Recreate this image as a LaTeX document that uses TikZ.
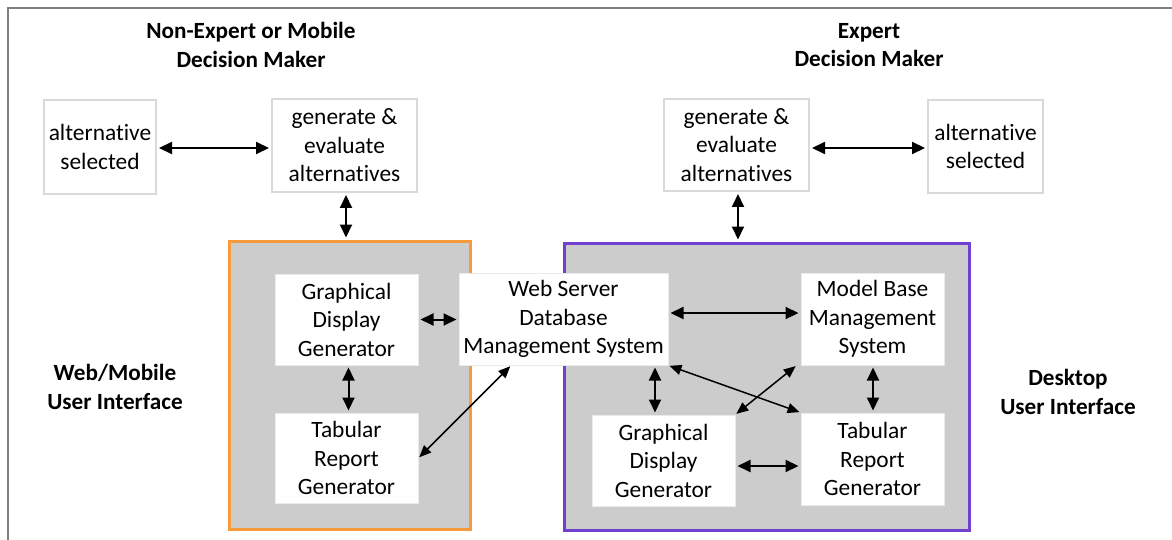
\documentclass[tikz,border=0pt]{standalone}
\usepackage{fontspec}
\setmainfont[Ligatures={CommonOff,ContextualOff},Contextuals=AlternateOff]{Carlito}
\usetikzlibrary{arrows.meta,calc}
\definecolor{framegray}{HTML}{808080}
\definecolor{boxline}{HTML}{D9D9D9}
\definecolor{panelgray}{HTML}{CCCCCC}
\definecolor{webor}{HTML}{F79A3A}
\definecolor{deskpu}{HTML}{7040D0}
\newcommand{\nolig}{\kern0pt{}}
\tikzset{
  txt/.style={font=\fontsize{23.4}{28.5}\selectfont, align=center, inner sep=0pt},
  title/.style={font=\bfseries\fontsize{23.2}{28.5}\selectfont, align=center, inner sep=0pt},
  topbox/.style={txt, draw=boxline, line width=2pt, fill=white},
  inbox/.style={txt, draw=white!92!black, line width=1pt, fill=white},
  panel/.style={fill=panelgray, line width=3pt, inner sep=0pt},
  biarr/.style={{Triangle[length=13pt,width=12pt]}-{Triangle[length=13pt,width=12pt]}, line width=2pt, shorten <=2pt, shorten >=2pt},
  diarr/.style={{Triangle[length=12pt,width=10pt]}-{Triangle[length=12pt,width=10pt]}, line width=1.5pt, shorten <=1pt, shorten >=1pt}
}
\begin{document}
\begin{tikzpicture}[x=1pt,y=-1pt]
\useasboundingbox (0,0) rectangle (1172,540);
\fill[white] (0,0) rectangle (1172,540);
% outer frame (top and left visible)
\coordinate (ftl) at (8,8);
\coordinate (ftr) at (1172,8);
\coordinate (fbl) at (8,540);
\draw[framegray, line width=2.5pt] (fbl) -- (ftl) -- (ftr);

% titles
\node[title] (tl) at (251,45) {Non-Expert or Mobile\\Decision Maker};
\node[title] (tr) at (869,45) {Expert\\Decision Maker};
\node[title] (lwui) at (115,387) {Web/Mobile\\User Interface};
\node[title] (ldui) at (1068,392) {Desktop\\User Interface};

% top boxes
\node[topbox, minimum width=112pt, minimum height=94pt] (altL) at (100,147) {alternat\nolig ive\\selected};
\node[topbox, minimum width=145pt, minimum height=93pt] (genL) at (344.5,145.5) {generate \&\\evaluate\\alternat\nolig ives};
\node[topbox, minimum width=145pt, minimum height=92pt] (genR) at (736.5,145) {generate \&\\evaluate\\alternat\nolig ives};
\node[topbox, minimum width=115pt, minimum height=93pt] (altR) at (985.5,146.5) {alternat\nolig ive\\selected};

% panels
\node[panel, draw=webor, minimum width=241pt, minimum height=288pt] (webui) at (349.5,385) {};
\node[panel, draw=deskpu, minimum width=405pt, minimum height=287pt] (deskui) at (766.5,386.5) {};

% inner boxes
\node[inbox, minimum width=143pt, minimum height=91pt] (gdgL) at (346.5,319.5) {Graphical\\Display\\Generator};
\node[inbox, minimum width=143pt, minimum height=90pt] (trgL) at (346.5,458) {Tabular\\Report\\Generator};
\node[inbox, minimum width=209pt, minimum height=92pt] (ws) at (563.5,319) {Web Server\\Database\\Management System};
\node[inbox, minimum width=143pt, minimum height=92pt] (mbms) at (872.5,319) {Model Base\\Management\\System};
\node[inbox, minimum width=143pt, minimum height=91pt] (gdgR) at (663.5,460.5) {Graphical\\Display\\Generator};
\node[inbox, minimum width=143pt, minimum height=92pt] (trgR) at (872.5,459) {Tabular\\Report\\Generator};

% top arrows
\draw[biarr] ([yshift=-1pt]altL.east) -- ([yshift=-1pt]altL.east -| genL.west);
\draw[biarr] ([yshift=-3pt]genR.east) -- ([yshift=-3pt]genR.east -| altR.west);
\draw[biarr] ([xshift=1.5pt]genL.south) -- ([xshift=1.5pt]genL.south |- webui.north);
\draw[biarr] ([xshift=1.5pt]genR.south) -- ([xshift=1.5pt]genR.south |- deskui.north);

% left panel arrows
\draw[biarr] (gdgL.east) -- (gdgL.east -| ws.west);
\draw[biarr] ([xshift=2pt]gdgL.south) -- ([xshift=2pt]trgL.north);
\draw[diarr] (trgL.east) -- ($(ws.south west)!0.25!(ws.south east)$);

% right panel arrows
\draw[biarr] ([yshift=6pt]ws.east) -- ([yshift=6pt]ws.east -| mbms.west);
\draw[biarr] ([xshift=-8.5pt]gdgR.north) -- ([xshift=-8.5pt]gdgR.north |- ws.south);
\draw[diarr] (ws.south east) -- (trgR.north west);
\draw[diarr] (gdgR.north east) -- ([xshift=-4pt]mbms.south west);
\draw[biarr] ([xshift=0.5pt]mbms.south) -- ([xshift=0.5pt]trgR.north);
\draw[biarr] ([yshift=-5.5pt]gdgR.east) -- ([yshift=-5.5pt]gdgR.east -| trgR.west);
\end{tikzpicture}
\end{document}
